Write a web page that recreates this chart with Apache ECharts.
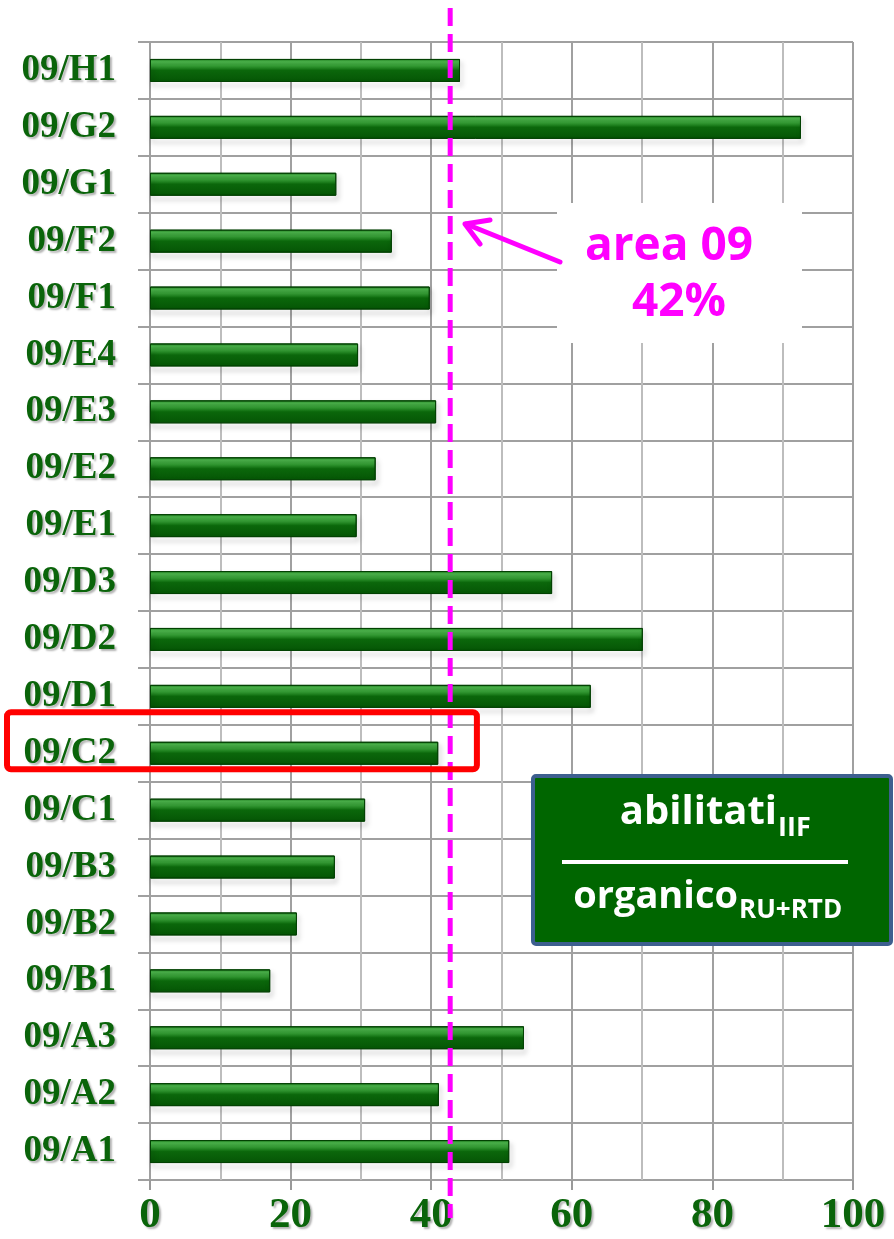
<!DOCTYPE html>
<html>
<head>
<meta charset="utf-8">
<script src="https://cdn.jsdelivr.net/npm/echarts@6/dist/echarts.min.js"></script>
<style>
  html, body { margin: 0; padding: 0; background: #fff; }
  #main { width: 894px; height: 1239px; }
</style>
</head>
<body>
<div id="main"></div>
<script>
var settori = ['09/A1', '09/A2', '09/A3', '09/B1', '09/B2', '09/B3', '09/C1', '09/C2', '09/D1', '09/D2',
               '09/D3', '09/E1', '09/E2', '09/E3', '09/E4', '09/F1', '09/F2', '09/G1', '09/G2', '09/H1'];
var percentuali = [51.1, 41.1, 53.2, 17.1, 20.9, 26.3, 30.6, 41.0, 62.7, 70.1,
                   57.2, 29.4, 32.1, 40.7, 29.6, 39.8, 34.4, 26.5, 92.6, 44.1];
var xTicks = [0, 20, 40, 60, 80, 100];
var mediaArea = 42.7; // linea tratteggiata "area 09"
var settoreEvidenziato = '09/C2';

var verde = '#0a640a';
var chart = echarts.init(document.getElementById('main'));

chart.setOption({
	animation: false,
	grid: { left: 150, right: 41, top: 42, bottom: 59 },
	xAxis: {
		type: 'value',
		min: xTicks[0],
		max: xTicks[xTicks.length - 1],
		interval: xTicks[1] - xTicks[0],
		axisLine: { show: false },
		axisTick: { show: true, length: 10, lineStyle: { color: '#999', width: 2 } },
		axisLabel: {
			margin: 14,
			color: verde,
			fontFamily: 'Liberation Serif',
			fontWeight: 'bold',
			fontSize: 43,
			textShadowColor: 'rgba(0,0,0,0.3)',
			textShadowBlur: 2,
			textShadowOffsetX: 2,
			textShadowOffsetY: 2
		},
		splitLine: { show: true, lineStyle: { color: '#a0a0a0', width: 2 } },
		minorTick: { show: false, splitNumber: 2 },
		minorSplitLine: { show: true, lineStyle: { color: '#bdbdbd', width: 2 } }
	},
	yAxis: {
		type: 'category',
		data: settori,
		axisLine: { show: true, lineStyle: { color: '#a0a0a0', width: 2 } },
		axisTick: { show: true, length: 12, lineStyle: { color: '#a0a0a0', width: 2 } },
		axisLabel: {
			margin: 34,
			color: verde,
			fontFamily: 'Liberation Serif',
			fontWeight: 'bold',
			fontSize: 37,
			textShadowColor: 'rgba(0,0,0,0.3)',
			textShadowBlur: 2,
			textShadowOffsetX: 2,
			textShadowOffsetY: 2
		},
		splitLine: { show: true, lineStyle: { color: '#a0a0a0', width: 2 } }
	},
	series: [{
		type: 'bar',
		data: percentuali,
		barWidth: 23,
		silent: true,
		itemStyle: {
			color: new echarts.graphic.LinearGradient(0, 0, 0, 1, [
				{ offset: 0, color: '#1f7d1f' },
				{ offset: 0.12, color: '#4db84d' },
				{ offset: 0.3, color: '#36a036' },
				{ offset: 0.5, color: '#0b670b' },
				{ offset: 1, color: '#055505' }
			]),
			borderColor: '#034203',
			borderWidth: 1,
			shadowColor: 'rgba(0,0,0,0.35)',
			shadowBlur: 5,
			shadowOffsetX: 2,
			shadowOffsetY: 4
		}
	}]
});

// annotazioni sopra al grafico
var xMedia = chart.convertToPixel({ xAxisIndex: 0 }, mediaArea);
var yC2 = chart.convertToPixel({ yAxisIndex: 0 }, settoreEvidenziato);
var xBox = chart.convertToPixel({ xAxisIndex: 0 }, 46.5);

chart.setOption({
	graphic: [
		{ type: 'rect', shape: { x: 557, y: 203, width: 245, height: 140 }, style: { fill: '#fff' }, z: 90 },
		{
			type: 'line', z: 100,
			shape: { x1: xMedia, y1: 8, x2: xMedia, y2: 1218 },
			style: { stroke: '#ff00ff', lineWidth: 5, lineDash: [18, 8] }
		},
		{
			type: 'polyline', z: 100,
			shape: { points: [[560, 262], [466, 224]] },
			style: { stroke: '#ff00ff', lineWidth: 5, lineCap: 'round' }
		},
		{
			type: 'polyline', z: 100,
			shape: { points: [[490, 220], [465, 224], [480, 244]] },
			style: { stroke: '#ff00ff', fill: null, lineWidth: 5, lineCap: 'round', lineJoin: 'round' }
		},
		{
			type: 'text', z: 100,
			style: {
				x: 669, y: 247, text: 'area 09', textAlign: 'center', textVerticalAlign: 'middle',
				fill: '#ff00ff', font: 'bold 46px "Open Sans"'
			}
		},
		{
			type: 'text', z: 100,
			style: {
				x: 679, y: 303, text: '42%', textAlign: 'center', textVerticalAlign: 'middle',
				fill: '#ff00ff', font: 'bold 46px "Open Sans"'
			}
		},
		{
			type: 'rect', z: 110,
			shape: { x: 7, y: yC2 - 41, width: xBox - 7, height: 57, r: 4 },
			style: { fill: null, stroke: '#ff0000', lineWidth: 6 }
		},
		{
			type: 'rect', z: 100,
			shape: { x: 533, y: 776, width: 358, height: 168, r: 3 },
			style: { fill: '#006600', stroke: '#3d5f8f', lineWidth: 4 }
		},
		{
			type: 'text', z: 101,
			style: { x: 777, y: 813, text: 'abilitati', textAlign: 'right', textVerticalAlign: 'middle', fill: '#fff', font: 'bold 40px "Open Sans"' }
		},
		{
			type: 'text', z: 101,
			style: { x: 778, y: 828, text: 'IIF', textVerticalAlign: 'middle', fill: '#fff', font: 'bold 27px "Open Sans"' }
		},
		{
			type: 'line', z: 101,
			shape: { x1: 562, y1: 862, x2: 848, y2: 862 },
			style: { stroke: '#fff', lineWidth: 4 }
		},
		{
			type: 'text', z: 101,
			style: { x: 738, y: 897, text: 'organico', textAlign: 'right', textVerticalAlign: 'middle', fill: '#fff', font: 'bold 38px "Open Sans"' }
		},
		{
			type: 'text', z: 101,
			style: { x: 739, y: 911, text: 'RU+RTD', textVerticalAlign: 'middle', fill: '#fff', font: 'bold 26px "Open Sans"' }
		}
	]
});
</script>
</body>
</html>
